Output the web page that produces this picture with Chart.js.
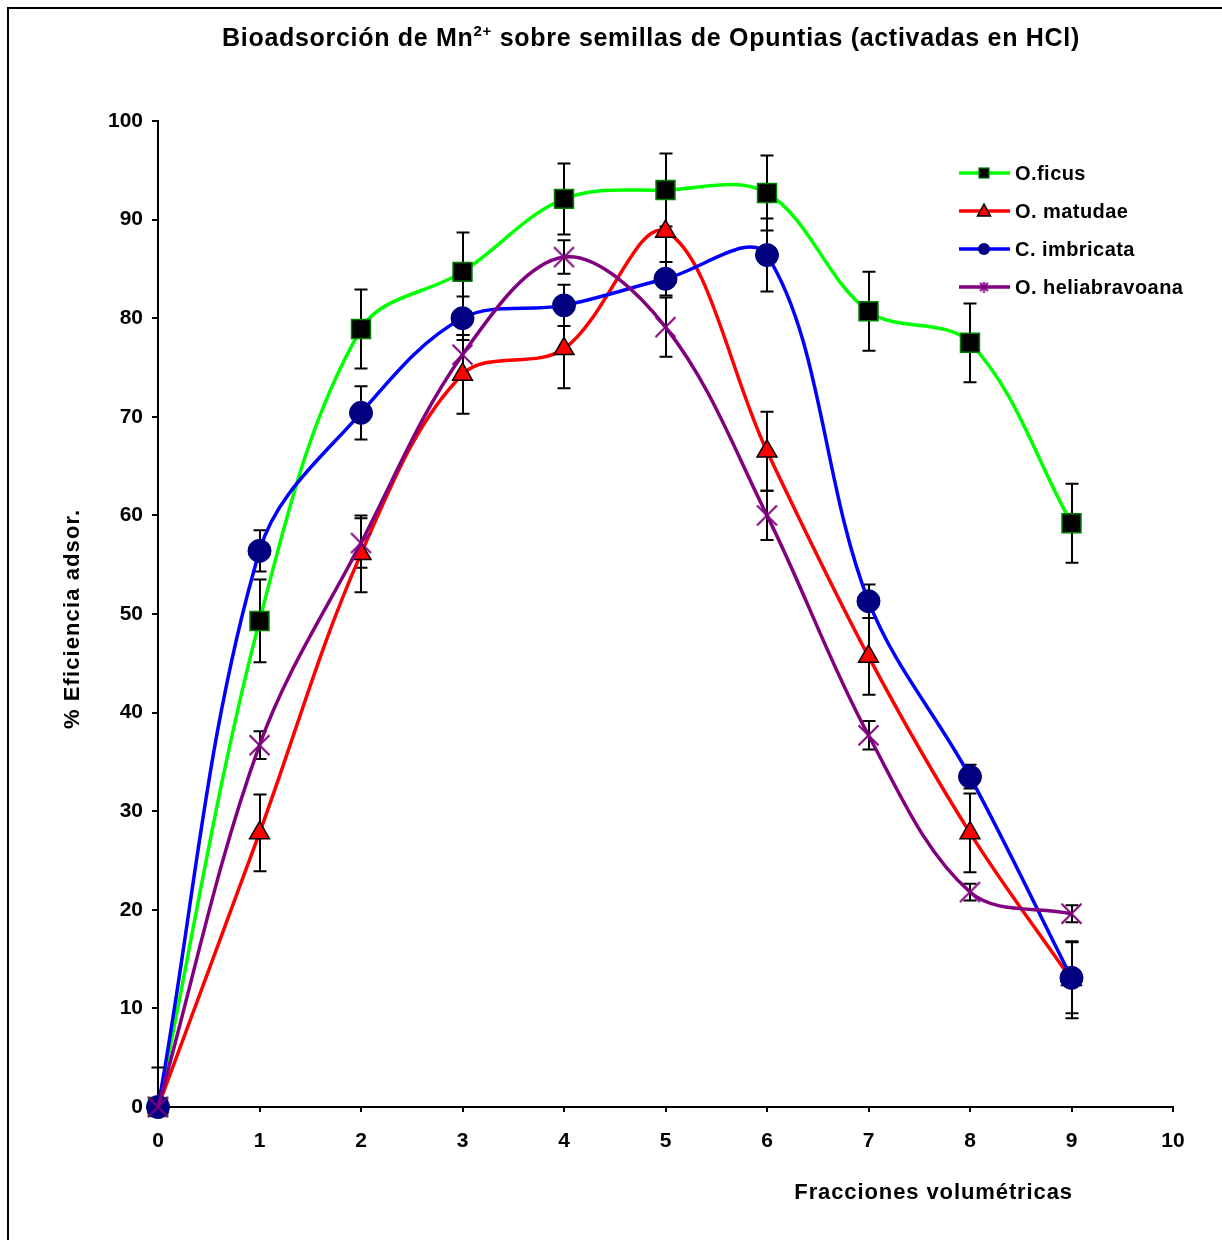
<!DOCTYPE html>
<html><head><meta charset="utf-8">
<script src="https://cdn.jsdelivr.net/npm/chart.js@4.4.0/dist/chart.umd.min.js"></script>
<style>html,body{margin:0;padding:0;background:#fff;}#wrap{width:1222px;height:1240px;position:relative;}</style>
</head><body><div id="wrap"><canvas id="c" width="1222" height="1240"></canvas></div>
<script>
// ---- data ----
const fractions = [0, 1, 2, 3, 4, 5, 6, 7, 8, 9];
const seriesNames = ['O.ficus', 'O. matudae', 'C. imbricata', 'O. heliabravoana'];
const oFicus       = [0, 49.3, 78.9, 84.7, 92.1, 93.0, 92.7, 80.7, 77.5, 59.2];
const oFicusErr    = [4, 4.2, 4.0, 4.0, 3.6, 3.7, 3.8, 4.0, 4.0, 4.0];
const oMatudae     = [0, 27.8, 56.1, 74.3, 76.9, 88.8, 66.5, 45.7, 27.8, 12.9];
const oMatudaeErr  = [0, 3.9, 3.9, 4.0, 4.0, 4.0, 4.0, 3.9, 4.0, 3.9];
const cImbricata   = [0, 56.4, 70.4, 80.0, 81.3, 84.0, 86.4, 51.3, 33.5, 13.1];
const cImbricataErr= [0, 2.1, 2.7, 2.2, 2.1, 1.7, 3.7, 1.7, 1.2, 3.6];
const oHelia       = [0, 36.7, 57.2, 76.3, 86.2, 79.1, 60.0, 37.7, 21.8, 19.6];
const oHeliaErr    = [0, 1.4, 2.5, 2.0, 1.7, 3.0, 2.5, 1.45, 0.85, 0.85];
const xTickValues = [0, 1, 2, 3, 4, 5, 6, 7, 8, 9, 10];
const yTickValues = [0, 10, 20, 30, 40, 50, 60, 70, 80, 90, 100];
const titleMain = 'Bioadsorción de Mn';
const titleSup = '2+';
const titleRest = ' sobre semillas de Opuntias (activadas en HCl)';
const xTitle = 'Fracciones volumétricas';
const yTitle = '% Eficiencia adsor.';

const FONT = '"Liberation Sans", Arial, Helvetica, sans-serif';

function makeStar(size, color, lw, vertical) {
  const c = document.createElement('canvas');
  c.width = size; c.height = size;
  const g = c.getContext('2d');
  g.strokeStyle = color; g.lineWidth = lw; g.lineCap = 'butt';
  const m = lw / 2 + 0.5;
  g.beginPath();
  g.moveTo(m, m); g.lineTo(size - m, size - m);
  g.moveTo(size - m, m); g.lineTo(m, size - m);
  if (vertical) { g.moveTo(size / 2, 0); g.lineTo(size / 2, size); }
  g.stroke();
  return c;
}
const starBig = makeStar(23, '#800080', 2, false);
const starSmall = makeStar(11, '#800080', 2, true);

const pts = (arr) => fractions.map((x, i) => ({ x: x, y: arr[i] }));

const datasets = [
  { label: seriesNames[0], data: pts(oFicus), err: oFicusErr, borderColor: '#00FF00', backgroundColor: '#000000',
    pointStyle: 'rect', pointRadius: 13.4, pointBorderColor: '#008000', pointBackgroundColor: '#000000', pointBorderWidth: 1.5, order: 4 },
  { label: seriesNames[1], data: pts(oMatudae), err: oMatudaeErr, borderColor: '#FF0000', backgroundColor: '#FF0000',
    pointStyle: 'triangle', pointRadius: 11.5, pointBorderColor: '#000000', pointBackgroundColor: '#FF0000', pointBorderWidth: 1.5, order: 3 },
  { label: seriesNames[2], data: pts(cImbricata), err: cImbricataErr, borderColor: '#0000FF', backgroundColor: '#000080',
    pointStyle: 'circle', pointRadius: 11.5, pointBorderColor: '#000080', pointBackgroundColor: '#000080', pointBorderWidth: 1, order: 2 },
  { label: seriesNames[3], data: pts(oHelia), err: oHeliaErr, borderColor: '#800080', backgroundColor: '#800080',
    pointStyle: starBig, pointRadius: 11.5, pointBorderColor: '#800080', pointBackgroundColor: '#800080', order: 1 }
];
datasets.forEach(d => { d.borderWidth = 3.5; d.tension = 0.35; d.fill = false; d.clip = false; d.pointHoverRadius = d.pointRadius; });

const errorBars = {
  id: 'errorBars',
  beforeDatasetsDraw(chart) {
    const ctx = chart.ctx, xs = chart.scales.x, ys = chart.scales.y, a = chart.chartArea;
    ctx.save();
    ctx.beginPath(); ctx.rect(a.left - 10, a.top - 1, a.right - a.left + 20, a.bottom - a.top + 1); ctx.clip();
    ctx.strokeStyle = '#000'; ctx.lineWidth = 2;
    chart.data.datasets.forEach(ds => {
      ds.data.forEach((p, i) => {
        const e = ds.err[i]; if (!e) return;
        const px = Math.round(xs.getPixelForValue(p.x));
        const y1 = ys.getPixelForValue(p.y + e), y2 = ys.getPixelForValue(p.y - e);
        ctx.beginPath();
        ctx.moveTo(px, y1); ctx.lineTo(px, y2);
        ctx.moveTo(px - 6.5, y1); ctx.lineTo(px + 6.5, y1);
        ctx.moveTo(px - 6.5, y2); ctx.lineTo(px + 6.5, y2);
        ctx.stroke();
      });
    });
    ctx.restore();
  }
};

const decor = {
  id: 'decor',
  beforeDraw(chart) {
    const ctx = chart.ctx;
    ctx.save(); ctx.fillStyle = '#fff'; ctx.fillRect(0, 0, chart.width, chart.height); ctx.restore();
  },
  afterDraw(chart) {
    const ctx = chart.ctx;
    ctx.save();
    // outer frame
    ctx.strokeStyle = '#000'; ctx.lineWidth = 2;
    ctx.beginPath(); ctx.moveTo(8, 1240); ctx.lineTo(8, 8); ctx.lineTo(1222, 8); ctx.stroke();
    // title with superscript
    ctx.fillStyle = '#000'; ctx.textBaseline = 'alphabetic'; ctx.textAlign = 'left';
    ctx.letterSpacing = '0.7px';
    const fMain = 'bold 25px ' + FONT, fSup = 'bold 15px ' + FONT;
    ctx.font = fMain; const w1 = ctx.measureText(titleMain).width, w3 = ctx.measureText(titleRest).width;
    ctx.font = fSup; const w2 = ctx.measureText(titleSup).width;
    let x = 651 - (w1 + w2 + w3) / 2; const by = 46;
    ctx.font = fMain; ctx.fillText(titleMain, x, by); x += w1;
    ctx.font = fSup; ctx.fillText(titleSup, x, by - 10); x += w2;
    ctx.font = fMain; ctx.fillText(titleRest, x, by);
    // axis titles
    ctx.font = 'bold 22px ' + FONT; ctx.textAlign = 'right'; ctx.textBaseline = 'middle';
    ctx.letterSpacing = '0.9px';
    ctx.fillText(xTitle, 1073, 1193);
    ctx.save(); ctx.translate(73, 619); ctx.rotate(-Math.PI / 2); ctx.textAlign = 'center';
    ctx.letterSpacing = '1.1px';
    ctx.fillText(yTitle, 0, 0); ctx.restore();
    // legend
    const rows = [173, 211, 249, 287];
    ctx.letterSpacing = '0.45px';
    chart.data.datasets.forEach((ds, i) => {
      const y = rows[i];
      ctx.strokeStyle = ds.borderColor; ctx.lineWidth = 3.5;
      ctx.beginPath(); ctx.moveTo(959, y); ctx.lineTo(1010, y); ctx.stroke();
      const cx = 984;
      if (i === 0) { ctx.fillStyle = '#000'; ctx.fillRect(cx - 5, y - 5, 10, 10); ctx.strokeStyle = '#008000'; ctx.lineWidth = 1.2; ctx.strokeRect(cx - 5, y - 5, 10, 10); }
      else if (i === 1) { ctx.fillStyle = '#FF0000'; ctx.strokeStyle = '#000'; ctx.lineWidth = 1.5; ctx.beginPath(); ctx.moveTo(cx, y - 7); ctx.lineTo(cx + 6.5, y + 5); ctx.lineTo(cx - 6.5, y + 5); ctx.closePath(); ctx.fill(); ctx.stroke(); }
      else if (i === 2) { ctx.fillStyle = '#000080'; ctx.beginPath(); ctx.arc(cx, y, 6, 0, Math.PI * 2); ctx.fill(); }
      else { ctx.drawImage(starSmall, cx - 5.5, y - 5.5); }
      ctx.fillStyle = '#000'; ctx.font = 'bold 20px ' + FONT; ctx.textAlign = 'left'; ctx.textBaseline = 'middle';
      ctx.fillText(ds.label, 1015, y + 1);
    });
    ctx.restore();
  }
};

const axisCommon = (tl) => ({
  type: 'linear',
  grid: { display: true, drawOnChartArea: false, drawTicks: true, tickLength: tl, color: '#000', lineWidth: 2 },
  border: { display: true, color: '#000', width: 2 },
  ticks: { color: '#000', font: { family: FONT, size: 21, weight: 'bold' } }
});
const xAxis = axisCommon(5);
xAxis.min = xTickValues[0]; xAxis.max = xTickValues[xTickValues.length - 1];
xAxis.afterBuildTicks = (s) => { s.ticks = xTickValues.map(v => ({ value: v })); };
xAxis.ticks.padding = 17;
xAxis.afterFit = (s) => { s.height = 133; };
const yAxis = axisCommon(6);
yAxis.min = yTickValues[0]; yAxis.max = yTickValues[yTickValues.length - 1];
yAxis.afterBuildTicks = (s) => { s.ticks = yTickValues.map(v => ({ value: v })); };
yAxis.ticks.padding = 9;
yAxis.afterFit = (s) => { s.width = 158; };

new Chart(document.getElementById('c'), {
  type: 'line',
  data: { datasets: datasets },
  options: {
    responsive: false, animation: false, devicePixelRatio: 1,
    layout: { padding: { top: 121, right: 49, left: 0, bottom: 0 } },
    plugins: { legend: { display: false }, tooltip: { enabled: false }, title: { display: false } },
    scales: { x: xAxis, y: yAxis },
    elements: { line: { capBezierPoints: true } }
  },
  plugins: [decor, errorBars]
});
</script></body></html>
